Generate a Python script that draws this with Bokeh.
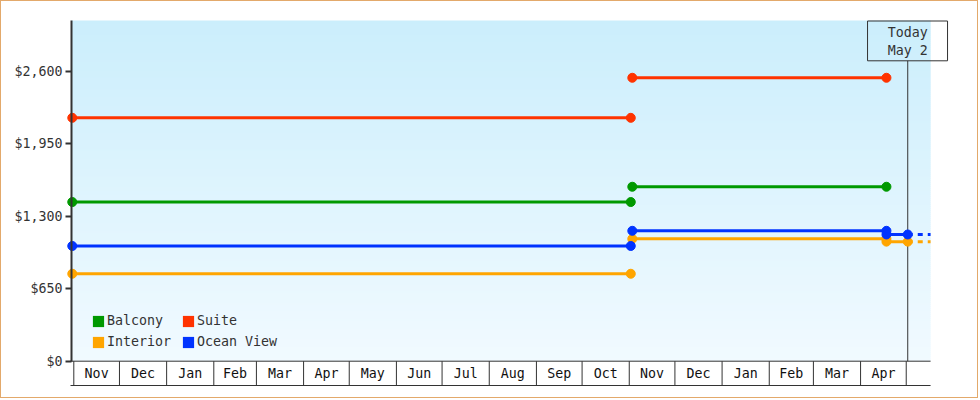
from datetime import datetime
import numpy as np
import pandas as pd
from bokeh.plotting import figure
from bokeh.models import (ColumnDataSource, Range1d, FixedTicker, LinearAxis,
                          NumeralTickFormatter, Legend, LegendItem)
from bokeh.core.properties import value
from bokeh.embed import file_html
from bokeh.resources import INLINE

# ---------------- data ----------------
series_names = ["Balcony", "Suite", "Interior", "Ocean View"]
series_colors = ["#009900", "#FF3300", "#FFA500", "#0033FF"]
period1_dates = ["2022-10-31", "2023-11-02"]
period2_dates = ["2023-11-03", "2024-04-18"]
today_date = "2024-05-02"
projection_end_date = "2024-05-17"
price_period1 = [1427, 2182, 784, 1033]
price_period2 = [1564, 2541, 1097, 1169]
price_current = [None, None, 1072, 1136]
y_tick_values = [0, 650, 1300, 1950, 2600]
month_first_day = "2022-11-01"
month_tick_labels = ["Nov", "Dec", "Jan", "Feb", "Mar", "Apr", "May", "Jun",
                     "Jul", "Aug", "Sep", "Oct", "Nov", "Dec", "Jan", "Feb",
                     "Mar", "Apr"]

# ---------------- layout / style ----------------
FONT = "DejaVu Sans Mono"
FSIZE = "13.3px"
INK = "#333333"
DOLLARS_PER_PX = 650 / 72.5
DAYS_PER_PX = 1 / 1.5218
ZERO_Y = 360.7
NOV1_X = 73.3
AXIS_X = 71
W, H = 978, 398
BORDER = 1
ML, MR, MT, MB = 61, 29, 18, 12
page_left = BORDER + ML
page_top = BORDER + MT
frame_w = W - ML - MR
frame_h = H - MT - MB

t0 = pd.Timestamp(month_first_day)


def yv(page_y):
    return (ZERO_Y - page_y) * DOLLARS_PER_PX


def xd(page_x):
    return t0 + pd.Timedelta(days=(page_x - NOV1_X) * DAYS_PER_PX)


def ms(ts):
    return (ts - pd.Timestamp("1970-01-01")) / pd.Timedelta(milliseconds=1)


PLOT_TOP = yv(20)
BAND_BOTTOM = yv(385)
x_start = xd(page_left)
x_end = xd(page_left + frame_w)
x_axis_pos = xd(AXIS_X)
proj_end = pd.Timestamp(projection_end_date)
today = pd.Timestamp(today_date)

p = figure(width=W, height=H, output_backend="svg", toolbar_location=None,
           x_range=Range1d(x_start, x_end),
           y_range=Range1d(yv(page_top + frame_h), yv(page_top)),
           x_axis_location=None, min_border_left=ML, min_border_right=MR,
           min_border_top=MT, min_border_bottom=MB)
p.styles = {"border": "1px solid #E3A96B"}
p.outline_line_color = None
p.grid.visible = False
p.background_fill_color = "white"
p.border_fill_color = "white"

# background gradient
N = 170
top_rgb = np.array([203, 238, 252])
bot_rgb = np.array([241, 250, 255])
edges = np.linspace(0, PLOT_TOP, N + 1)
step = edges[1] - edges[0]
fr = (edges[:-1] + step / 2) / PLOT_TOP
cols = ["#%02x%02x%02x" % tuple(np.round(bot_rgb + (top_rgb - bot_rgb) * f).astype(int)) for f in fr]
p.quad(left=[x_axis_pos] * N, right=[proj_end] * N, bottom=edges[:-1],
       top=np.minimum(edges[1:] + step * 0.6, PLOT_TOP), fill_color=cols, line_color=None)

# month band under the plot
bounds = pd.date_range(month_first_day, periods=len(month_tick_labels) + 1, freq="MS")
p.segment(x0=bounds, y0=[0] * len(bounds), x1=bounds, y1=[BAND_BOTTOM] * len(bounds),
          line_color=INK, line_width=1)
p.segment(x0=[xd(70)] * 2, y0=[0, BAND_BOTTOM], x1=[proj_end] * 2, y1=[0, BAND_BOTTOM],
          line_color=INK, line_width=1)
mids = bounds[:-1] + (bounds[1:] - bounds[:-1]) / 2
p.text(x=mids, y=[BAND_BOTTOM / 2] * len(mids), text=month_tick_labels,
       text_font=value(FONT), text_font_size=value(FSIZE), text_color="#111111",
       text_align="center", text_baseline="middle")

# today marker
box_bottom = yv(60.3)
p.segment(x0=[today], y0=[0], x1=[today], y1=[box_bottom], line_color=INK, line_width=1)
p.quad(left=[today - pd.Timedelta(days=40.2 * DAYS_PER_PX)],
       right=[today + pd.Timedelta(days=39.8 * DAYS_PER_PX)],
       bottom=[box_bottom], top=[yv(20.5)], fill_color=None, line_color=INK, line_width=1)
p.text(x=[today, today], y=[yv(32), yv(50)],
       text=["Today", f"{today:%b} {today.day}"],
       text_font=value(FONT), text_font_size=value(FSIZE), text_color=INK,
       text_align="center", text_baseline="middle")

# y axis line + ticks, drawn at the left edge of the data area
ax = p.yaxis[0]
ax.fixed_location = float(ms(x_axis_pos))
ax.bounds = (0, PLOT_TOP)
ax.ticker = FixedTicker(ticks=y_tick_values)
ax.major_label_overrides = {v: "" for v in y_tick_values}
ax.axis_line_color = INK
ax.axis_line_width = 2
ax.major_tick_line_color = INK
ax.major_tick_line_width = 2
ax.major_tick_out = 6
ax.major_tick_in = 0
ax.minor_tick_line_color = None
ax.major_label_standoff = 0

# y axis labels, in the left margin
lab_ax = LinearAxis(ticker=FixedTicker(ticks=y_tick_values),
                    formatter=NumeralTickFormatter(format="$0,0"),
                    bounds=(0, PLOT_TOP), axis_line_color=None,
                    major_tick_line_color=None, minor_tick_line_color=None,
                    major_tick_out=0, major_tick_in=0, major_label_standoff=0,
                    major_label_text_font=FONT, major_label_text_font_size=FSIZE,
                    major_label_text_color=INK)
p.add_layout(lab_ax, "left")

# series
p1s, p1e = pd.Timestamp(period1_dates[0]), pd.Timestamp(period1_dates[1])
p2s, p2e = pd.Timestamp(period2_dates[0]), pd.Timestamp(period2_dates[1])
for name, c, v1, v2, vc in zip(series_names, series_colors, price_period1,
                                price_period2, price_current):
    xs1, ys1 = [p1s, p1e], [v1, v1]
    if vc is None:
        xs2, ys2 = [p2s, p2e], [v2, v2]
    else:
        xs2, ys2 = [p2s, p2e, p2e, today], [v2, v2, vc, vc]
        p.line([today, proj_end], [vc, vc], line_color=c, line_width=3, line_dash="5 5")
    for xs, ys in ((xs1, ys1), (xs2, ys2)):
        p.line(xs, ys, line_color=c, line_width=3)
        p.scatter(xs, ys, size=9, marker="circle", fill_color=c, line_color=c)

# legend (swatches use renderers whose single quad lies off-range)
items = []
for name, c in zip(series_names, series_colors):
    r = p.quad(left=[np.nan], right=[np.nan], top=[np.nan], bottom=[np.nan],
               fill_color=c, line_color=None)
    items.append(LegendItem(label=name, renderers=[r]))
legend = Legend(items=items, location=(29, 38), orientation="horizontal", ncols=2,
                glyph_width=14, glyph_height=14, label_height=14, label_width=68,
                label_standoff=2, spacing=6, padding=0, margin=0,
                background_fill_alpha=0, border_line_alpha=0,
                label_text_font=FONT, label_text_font_size=FSIZE,
                label_text_color=INK)
p.add_layout(legend)

open("out.html", "w").write(file_html(p, INLINE))
